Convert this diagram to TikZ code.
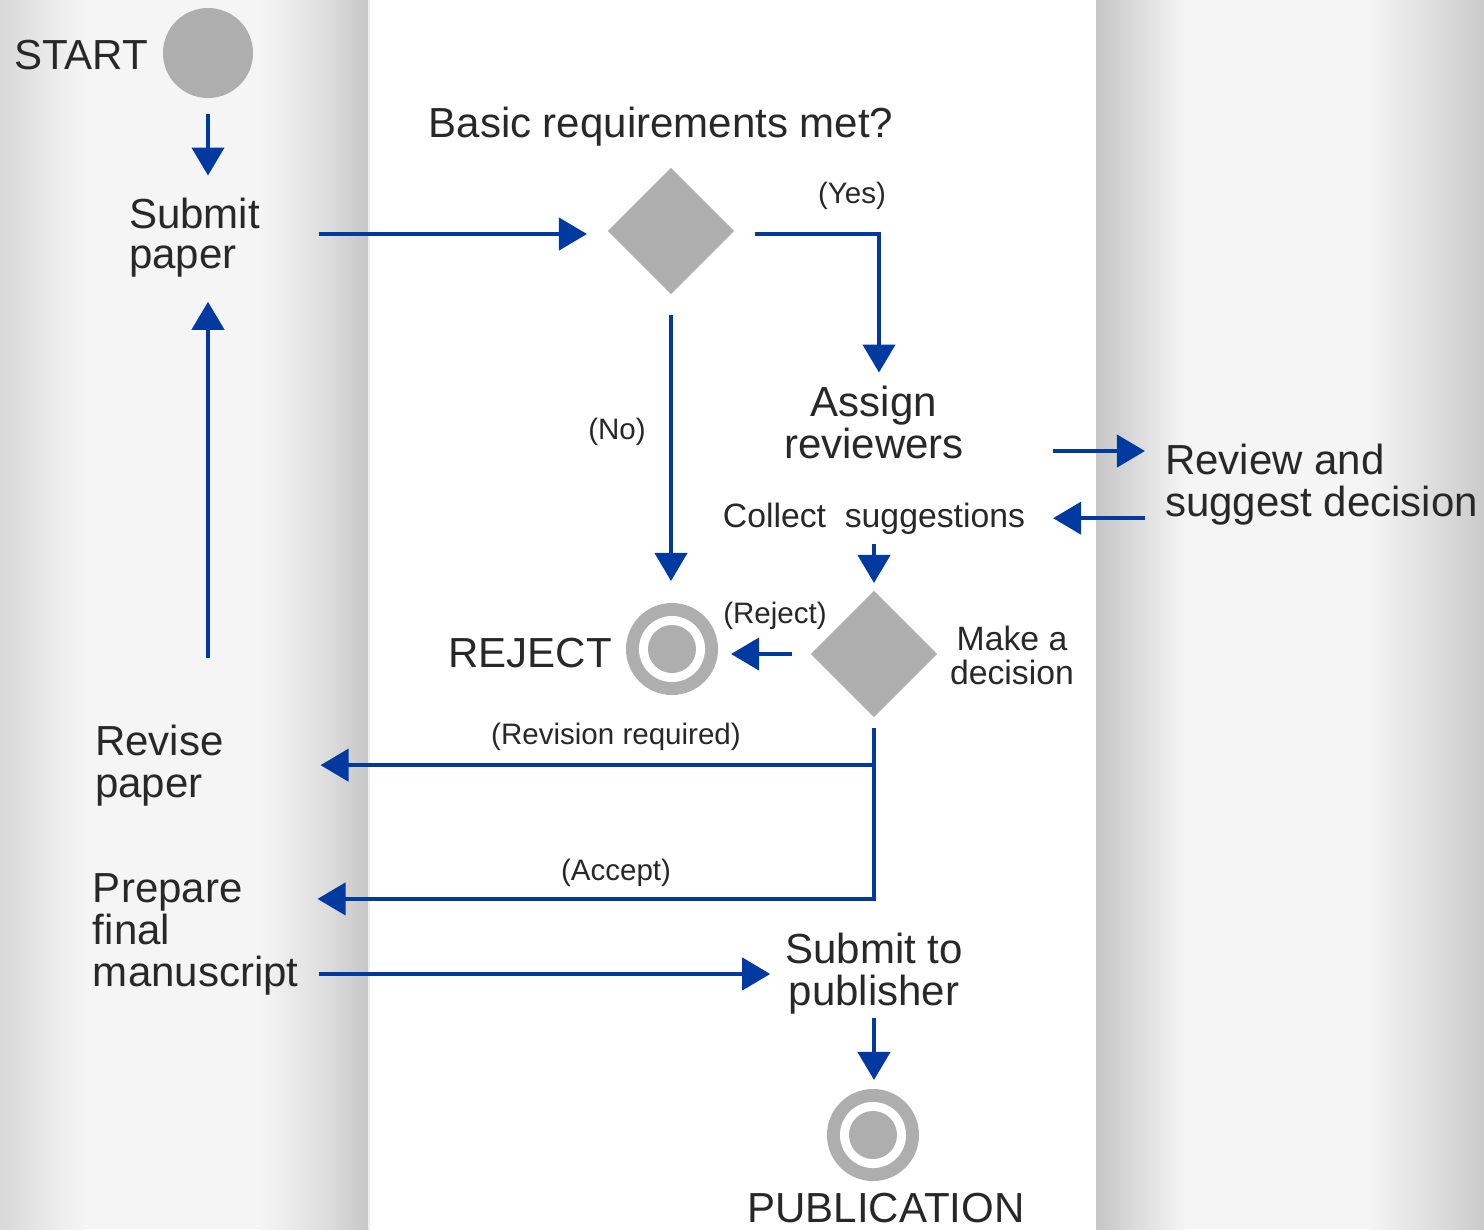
\documentclass[tikz,border=0pt]{standalone}
\usepackage{fontspec}
\setmainfont{Liberation Sans}
\usetikzlibrary{arrows.meta,shapes.geometric}

\definecolor{flowblue}{RGB}{0,58,160}
\definecolor{shapegrey}{RGB}{174,174,174}
\definecolor{inkgrey}{RGB}{40,40,40}
\definecolor{laneedge}{RGB}{198,198,198}
\definecolor{lanemid}{RGB}{245,245,245}

% multi-line text whose baseline is the first line, with fixed line distance
\newcommand\leftlines[2]{\vtop{\baselineskip=#1\lineskiplimit=-\maxdimen\lineskip=0pt\halign{##\hfil\cr#2\crcr}}}
\newcommand\centerlines[2]{\vtop{\baselineskip=#1\lineskiplimit=-\maxdimen\lineskip=0pt\halign{\hfil##\hfil\cr#2\crcr}}}

\tikzset{
  txt/.style={inner sep=0pt, outer sep=0pt, text=inkgrey, font=\fontsize{11.95}{14}\selectfont},
  smalltxt/.style={inner sep=0pt, outer sep=0pt, text=inkgrey, font=\fontsize{9.6}{11.5}\selectfont},
  tag/.style={inner sep=0pt, outer sep=0pt, text=inkgrey, font=\fontsize{8.4}{10}\selectfont},
  flow/.style={draw=flowblue, line width=0.042cm, line join=miter,
    -{Triangle[width=0.32cm,length=0.28cm]}},
  decision/.style={diamond, aspect=1, fill=shapegrey, minimum width=1.26cm,
    minimum height=1.26cm, inner sep=0pt, outer sep=0pt},
  startdot/.style={circle, fill=shapegrey, minimum size=0.9cm, inner sep=0pt, outer sep=0pt},
  enddot/.style={circle, fill=shapegrey, minimum size=0.92cm, inner sep=0pt, outer sep=0pt,
    path picture={
      \fill[white] (path picture bounding box.center) circle (0.33cm);
      \fill[shapegrey] (path picture bounding box.center) circle (0.24cm);}},
}

\begin{document}
\begin{tikzpicture}[x=0.01cm, y=-0.01cm]
\useasboundingbox (0,0) rectangle (1484,1229);

% swimlanes
\fill[white] (0,0) rectangle (1484,1229);
\shade[left color=laneedge!60!lanemid, right color=lanemid] (0,0) rectangle (85,1229);
\fill[lanemid] (84,0) rectangle (261,1229);
\shade[left color=lanemid, right color=lanemid!45!laneedge] (260,0) rectangle (331,1229);
\shade[left color=lanemid!45!laneedge, right color=laneedge] (330,0) rectangle (369,1229);
\fill[white!70!laneedge] (368,0) rectangle (370,1229);
\shade[left color=laneedge, right color=lanemid] (1096,0) rectangle (1185,1229);
\fill[lanemid] (1184,0) rectangle (1371,1229);
\shade[left color=lanemid, right color=laneedge!90!lanemid] (1370,0) rectangle (1484,1229);

% nodes
\node[startdot] (start) at (208,53) {};
\node[txt, anchor=base east] (startlbl) at (148,69) {START};
\node[txt, anchor=base west] (submit) at (129,228) {\leftlines{0.40cm}{Submit\cr paper}};
\node[txt, anchor=base] (q1lbl) at (661,137) {Basic requirements met?};
\node[decision] (q1) at (671,231) {};
\node[txt, anchor=base] (assign) at (874,416) {\centerlines{0.42cm}{Assign\cr reviewers}};
\node[txt, anchor=base west] (review) at (1165,474) {\leftlines{0.42cm}{Review and\cr suggest decision}};
\node[smalltxt, anchor=base] (collect) at (874,527) {Collect\ \ suggestions};
\node[decision] (q2) at (874,654) {};
\node[smalltxt, anchor=base] (decide) at (1012,650) {\centerlines{0.34cm}{Make a\cr decision}};
\node[enddot] (reject) at (672,649) {};
\node[txt, anchor=base east] (rejectlbl) at (612,667) {REJECT};
\node[txt, anchor=base west] (revise) at (95,755) {\leftlines{0.42cm}{Revise\cr paper}};
\node[txt, anchor=base west] (prepare) at (93,902) {\leftlines{0.42cm}{Prepare\cr final\cr manuscript}};
\node[txt, anchor=base] (submitpub) at (874,963) {\centerlines{0.42cm}{Submit to\cr publisher}};
\node[enddot] (pub) at (873,1135) {};
\node[txt, anchor=base] (publbl) at (886,1222) {PUBLICATION};

% branch labels
\node[tag] (yes) at (852,196) {(Yes)};
\node[tag] (no) at (617,432) {(No)};
\node[tag] (rejtag) at (775,616) {(Reject)};
\node[tag] (revtag) at (616,737) {(Revision required)};
\node[tag] (acctag) at (616,873) {(Accept)};

% connectors
\draw[flow, shorten <=0.16cm, shorten >=0.22cm] (start) -- (start |- submit.north);
\draw[flow, shorten <=0.59cm, shorten >=0.21cm]
  ([yshift=-0.03cm]submit.east |- q1) -- ([yshift=-0.03cm]q1.west);
\draw[flow, shorten <=0.21cm, shorten >=0.13cm]
  ([yshift=-0.03cm]q1.east) -| ([xshift=0.05cm]assign.north);
\draw[flow, shorten <=0.21cm, shorten >=0.22cm] (q1.south) -- (q1.south |- reject.north);
\draw[flow, shorten <=0.89cm, shorten >=0.20cm]
  ([yshift=-0.29cm]assign.east) -- ([yshift=-0.29cm]assign.east -| review.west);
\draw[flow, shorten <=0.20cm, shorten >=0.28cm]
  ([yshift=-0.34cm]review.west) -- ([yshift=-0.34cm]review.west -| collect.east);
\draw[flow, shorten <=0.10cm, shorten >=0.08cm] (collect.south) -- (q2.north);
\draw[flow, shorten <=0.19cm, shorten >=0.13cm] (q2.west) -- (q2.west -| reject.east);
\draw[flow, shorten <=0.11cm, shorten >=0.97cm] (q2.south) |- (revise.east);
\draw[flow, shorten <=0.11cm, shorten >=0.19cm] (q2.south) |- ([yshift=0.35cm]prepare.east);
\draw[flow, shorten <=0.20cm, shorten >=0.15cm]
  ([yshift=-0.40cm]prepare.east) -- ([yshift=-0.40cm]prepare.east -| submitpub.west);
\draw[flow, shorten <=0.04cm, shorten >=0.09cm] (submitpub.south) -- (submitpub.south |- pub.north);
\draw[flow, shorten <=0.67cm, shorten >=0.25cm] (revise.north -| start) -- (submit.south -| start);
\end{tikzpicture}
\end{document}
